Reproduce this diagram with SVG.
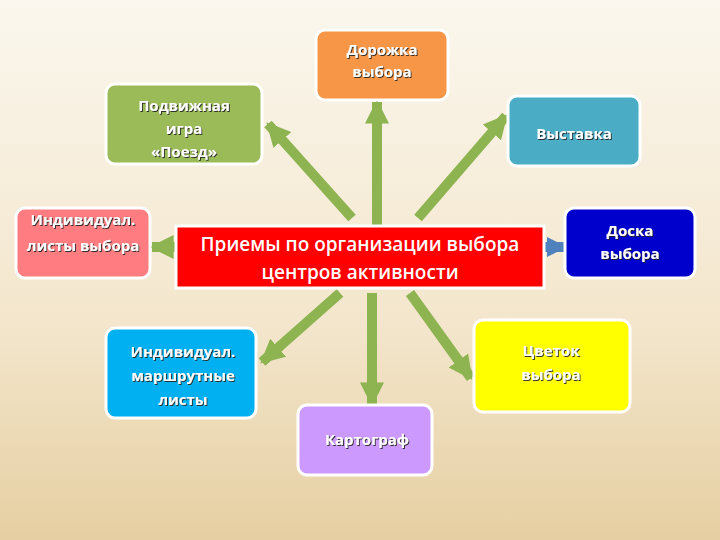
<svg xmlns="http://www.w3.org/2000/svg" width="720" height="540" viewBox="0 0 720 540">
<defs>
<linearGradient id="bg" x1="0" y1="0" x2="0" y2="1"><stop offset="0" stop-color="#FBF7EE"/><stop offset="0.6" stop-color="#F3E6CC"/><stop offset="1" stop-color="#E6CFA2"/></linearGradient>
<marker id="ah" viewBox="0 0 10 10" refX="9" refY="5" markerWidth="2.4" markerHeight="2.8" orient="auto" markerUnits="strokeWidth"><path d="M0,0 L10,5 L0,10 Z" fill="#8DB450"/></marker>
<marker id="ahb" viewBox="0 0 10 10" refX="9" refY="5" markerWidth="2" markerHeight="2.6" orient="auto" markerUnits="strokeWidth"><path d="M0,0 L10,5 L0,10 Z" fill="#4F81BD"/></marker>
<filter id="sh"><feDropShadow dx="1" dy="1" stdDeviation="0.6" flood-color="#222" flood-opacity="0.9"/></filter>
</defs>
<style>
.n{stroke:#fff;stroke-width:3}
.t{font-family:"Open Sans","DejaVu Sans",sans-serif;font-size:15px;font-weight:bold;fill:#fff;text-anchor:middle;filter:url(#sh)}
.a{stroke:#8DB450;stroke-width:10;fill:none;marker-end:url(#ah)}
.c{font-family:"Open Sans","DejaVu Sans",sans-serif;font-size:19px;font-weight:600;fill:#fff;text-anchor:middle}
</style>
<rect width="720" height="540" fill="url(#bg)"/>
<g id="connectors">
<line class="a" x1="377" y1="225" x2="377" y2="102"/>
<line class="a" x1="352" y1="218" x2="268" y2="124"/>
<line class="a" x1="418" y1="218" x2="506" y2="116"/>
<line class="a" x1="176" y1="247" x2="152" y2="247"/>
<line x1="544" y1="247" x2="565" y2="247" stroke="#4F81BD" stroke-width="10" marker-end="url(#ahb)"/>
<line class="a" x1="340" y1="293" x2="262" y2="362"/>
<line class="a" x1="372" y1="293" x2="372" y2="404"/>
<line class="a" x1="410" y1="293" x2="471" y2="378"/>
</g>
<g id="center"><rect x="176" y="226" width="368" height="62" fill="#FF0000" class="n"/>
<text class="c" x="360" y="251">Приемы по организации выбора</text>
<text class="c" x="360" y="279">центров активности</text></g>
<g id="n1"><rect class="n" x="316" y="30" width="132" height="70" rx="9" fill="#F79646"/><text class="t" x="382" y="55">Дорожка</text><text class="t" x="382" y="77">выбора</text></g>
<g id="n2"><rect class="n" x="106" y="84" width="156" height="80" rx="9" fill="#9BBB59"/><text class="t" x="184" y="111">Подвижная</text><text class="t" x="184" y="134">игра</text><text class="t" x="184" y="157">«Поезд»</text></g>
<g id="n3"><rect class="n" x="508" y="96" width="132" height="70" rx="9" fill="#4BACC6"/><text class="t" x="574" y="139">Выставка</text></g>
<g id="n4"><rect class="n" x="16" y="208" width="134" height="70" rx="9" fill="#FF7C80"/><text class="t" x="83" y="225">Индивидуал.</text><text class="t" x="83" y="251">листы выбора</text></g>
<g id="n5"><rect class="n" x="565" y="208" width="130" height="70" rx="9" fill="#0000CC"/><text class="t" x="630" y="236">Доска</text><text class="t" x="630" y="259">выбора</text></g>
<g id="n6"><rect class="n" x="106" y="328" width="150" height="90" rx="9" fill="#00B0F0"/><text class="t" x="183" y="357">Индивидуал.</text><text class="t" x="183" y="381">маршрутные</text><text class="t" x="183" y="405">листы</text></g>
<g id="n7"><rect class="n" x="298" y="405" width="134" height="70" rx="9" fill="#CC99FF"/><text class="t" x="367" y="445">Картограф</text></g>
<g id="n8"><rect class="n" x="474" y="320" width="156" height="92" rx="9" fill="#FFFF00"/><text class="t" x="551" y="356">Цветок</text><text class="t" x="551" y="380">выбора</text></g>
</svg>
